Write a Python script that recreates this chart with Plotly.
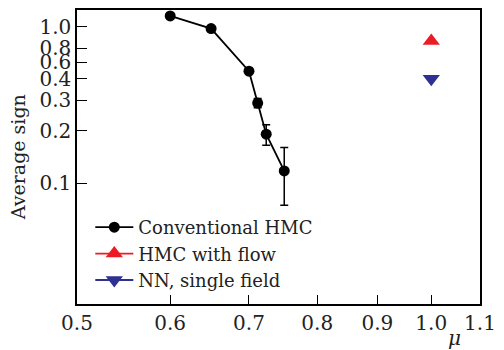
import plotly.graph_objects as go
import math

# Conventional HMC
mu_hmc = [0.6, 0.65, 0.7, 0.712, 0.724, 0.75]
sign_hmc = [0.924, 0.781, 0.443, 0.290, 0.1915, 0.1175]
err_hmc = [0.0, 0.0, 0.01, 0.018, 0.026, 0.043]

# HMC with flow
mu_flow = [1.0]
sign_flow = [0.661]

# NN, single field
mu_nn = [1.0]
sign_nn = [0.400]

x_ticks = [0.5, 0.6, 0.7, 0.8, 0.9, 1.0, 1.1]
x_ticktext = ["0.5", "0.6", "0.7", "0.8", "0.9", "1.0", "1.1"]
y_ticks = [0.1, 0.2, 0.3, 0.4, 0.5, 0.6, 0.8]
y_ticktext = ["0.1", "0.2", "0.3", "0.4", "0.6", "0.8", "1.0"]

FONT = "DejaVu Serif"
RED = "#ec1c24"
BLUE = "#2e3192"

fig = go.Figure()
fig.add_trace(go.Scatter(
    x=mu_hmc, y=sign_hmc, mode="lines+markers", name="Conventional HMC",
    line=dict(color="black", width=1.8),
    marker=dict(color="black", size=11, symbol="circle"),
    error_y=dict(type="data", array=err_hmc, visible=True, color="black",
                 thickness=1.5, width=4),
))
fig.add_trace(go.Scatter(
    x=mu_flow, y=sign_flow, mode="lines+markers", name="HMC with flow",
    line=dict(color=RED, width=1.8),
    marker=dict(color=RED, size=15, symbol="triangle-up"),
))
fig.add_trace(go.Scatter(
    x=mu_nn, y=sign_nn, mode="lines+markers", name="NN, single field",
    line=dict(color=BLUE, width=1.8),
    marker=dict(color=BLUE, size=15, symbol="triangle-down"),
))

fig.update_layout(
    width=504, height=350,
    margin=dict(l=77, r=15, t=8, b=46),
    paper_bgcolor="white", plot_bgcolor="white",
    font=dict(family=FONT, size=20, color="#222"),
    showlegend=True,
    legend=dict(x=0.033, y=0.017, xanchor="left", yanchor="bottom",
                bgcolor="rgba(0,0,0,0)", borderwidth=0,
                font=dict(family=FONT, size=18, color="#222"),
                itemwidth=38, tracegroupgap=0),
    xaxis=dict(type="log", range=[math.log10(0.5), math.log10(1.1)],
               tickvals=x_ticks, ticktext=x_ticktext,
               ticks="inside", ticklen=9, tickwidth=1.2, tickcolor="black",
               showline=True, linecolor="black", linewidth=1.5, mirror=True,
               showgrid=False, zeroline=False, ticklabeloverflow="allow",
               tickfont=dict(family=FONT, size=20, color="#222")),
    yaxis=dict(type="log", range=[math.log10(0.02), 0],
               tickvals=y_ticks, ticktext=y_ticktext,
               ticks="inside", ticklen=10, tickwidth=1.2, tickcolor="black",
               showline=True, linecolor="black", linewidth=1.5, mirror=True,
               showgrid=False, zeroline=False,
               tickfont=dict(family=FONT, size=20, color="#222")),
    annotations=[
        dict(text="Average sign", xref="paper", yref="paper",
             x=-0.146, y=0.5, xanchor="center", yanchor="middle",
             textangle=-90, showarrow=False,
             font=dict(family=FONT, size=19, color="#222")),
        dict(text="<i>μ</i>", xref="paper", yref="paper",
             x=(463 - 77) / 412, y=-(338 - 304) / 296,
             xanchor="center", yanchor="middle", showarrow=False,
             font=dict(family=FONT, size=20, color="#222")),
    ],
)

fig.write_html("out.html")
